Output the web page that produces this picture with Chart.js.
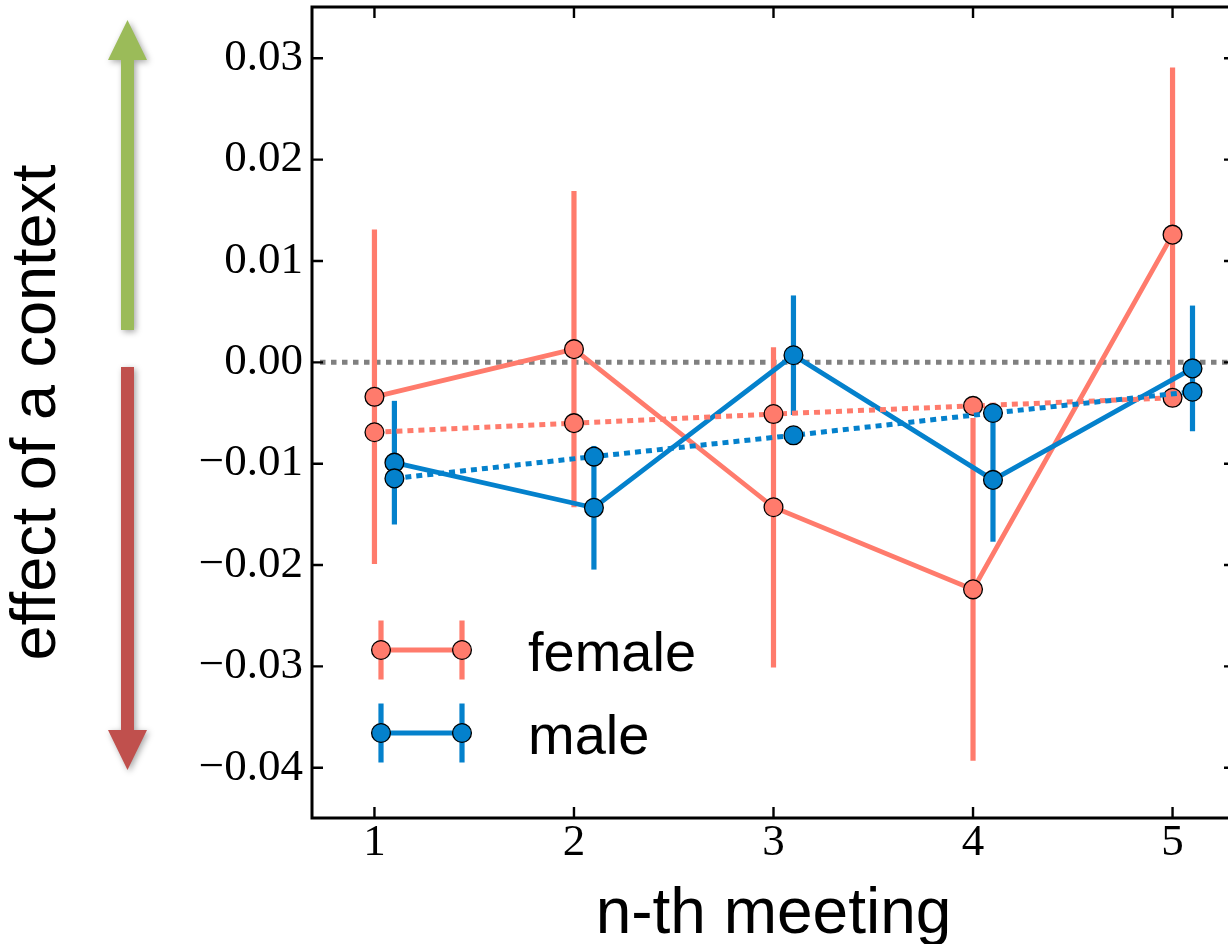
<!DOCTYPE html>
<html><head><meta charset="utf-8">
<script src="https://cdn.jsdelivr.net/npm/chart.js@4.4.1/dist/chart.umd.min.js"></script>
<style>
html,body{margin:0;padding:0;background:#fff;overflow:hidden;width:1228px;height:944px}
canvas{display:block}
</style></head>
<body>
<canvas id="c" width="1240" height="944"></canvas>
<script>
// ---- data ----
const meetings = [1, 2, 3, 4, 5];
const maleOffset = 0.1;
const femaleMean = [-0.0034, 0.0013, -0.0143, -0.0224, 0.0126];
const femaleErr  = [0.0165, 0.0156, 0.0158, 0.0169, 0.0165];
const maleMean   = [-0.0099, -0.01435, 0.0007, -0.0116, -0.0006];
const maleErr    = [0.0061, 0.0061, 0.0059, 0.0061, 0.0062];
const femaleFit  = [-0.0069, -0.0060, -0.0051, -0.0043, -0.0035];
const maleFit    = [-0.01145, -0.0093, -0.0072, -0.0050, -0.0029];
const yTickValues = [-0.04, -0.03, -0.02, -0.01, 0.00, 0.01, 0.02, 0.03];
const xTickValues = [1, 2, 3, 4, 5];
const seriesLabels = ['female', 'male'];
const xTitle = 'n-th meeting';
const yTitle = 'effect of a context';

const FEMALE = '#FF7B6C';
const MALE = '#0481CC';

const pts = (xs, ys, off) => xs.map((x, i) => ({x: x + off, y: ys[i]}));

function drawErrBars(ctx, xs, means, errs, off, color, sx, sy) {
  ctx.strokeStyle = color; ctx.lineWidth = 5.2; ctx.lineCap = 'butt';
  xs.forEach((x, i) => {
    const px = sx.getPixelForValue(x + off);
    ctx.beginPath();
    ctx.moveTo(px, sy.getPixelForValue(means[i] + errs[i]));
    ctx.lineTo(px, sy.getPixelForValue(means[i] - errs[i]));
    ctx.stroke();
  });
}

function arrow(ctx, cx, tipY, baseY, endY, color) {
  const sw = 6.5, hw = 19.5;
  ctx.save();
  ctx.shadowColor = 'rgba(0,0,0,0.35)';
  ctx.shadowBlur = 6; ctx.shadowOffsetX = 2; ctx.shadowOffsetY = 2;
  ctx.fillStyle = color;
  ctx.beginPath();
  ctx.moveTo(cx, tipY);
  ctx.lineTo(cx + hw, baseY);
  ctx.lineTo(cx + sw, baseY);
  ctx.lineTo(cx + sw, endY);
  ctx.lineTo(cx - sw, endY);
  ctx.lineTo(cx - sw, baseY);
  ctx.lineTo(cx - hw, baseY);
  ctx.closePath();
  ctx.fill();
  ctx.restore();
}

const decor = {
  id: 'decor',
  beforeDatasetsDraw(chart) {
    const {ctx, chartArea: a, scales: {x, y}} = chart;
    ctx.save();
    const y0 = y.getPixelForValue(0);
    ctx.beginPath();
    ctx.setLineDash([5.5, 5.5]);
    ctx.lineWidth = 5; ctx.strokeStyle = '#808080';
    ctx.moveTo(a.left + 8, y0); ctx.lineTo(a.right, y0); ctx.stroke();
    ctx.setLineDash([]);
    drawErrBars(ctx, meetings, femaleMean, femaleErr, 0, FEMALE, x, y);
    drawErrBars(ctx, meetings, maleMean, maleErr, maleOffset, MALE, x, y);
    ctx.restore();
  },
  afterDraw(chart) {
    const {ctx, chartArea: a, scales: {x, y}} = chart;
    ctx.save();
    // frame
    ctx.strokeStyle = '#000'; ctx.lineWidth = 3;
    ctx.strokeRect(a.left, a.top, a.right - a.left, a.bottom - a.top);
    // inward ticks
    ctx.lineWidth = 2.4;
    const tl = 11;
    ctx.beginPath();
    y.ticks.forEach(t => {
      const py = y.getPixelForValue(t.value);
      ctx.moveTo(a.left, py); ctx.lineTo(a.left + tl, py);
      ctx.moveTo(a.right, py); ctx.lineTo(a.right - tl, py);
    });
    x.ticks.forEach(t => {
      const px = x.getPixelForValue(t.value);
      ctx.moveTo(px, a.bottom); ctx.lineTo(px, a.bottom - tl);
      ctx.moveTo(px, a.top); ctx.lineTo(px, a.top + tl);
    });
    ctx.stroke();
    // legend
    const entries = [
      {label: chart.data.datasets[0].label, color: FEMALE, y: 650},
      {label: chart.data.datasets[1].label, color: MALE, y: 733}
    ];
    const lx1 = 381, lx2 = 462;
    entries.forEach(e => {
      ctx.lineCap = 'butt';
      ctx.strokeStyle = e.color; ctx.lineWidth = 4.8;
      ctx.beginPath(); ctx.moveTo(lx1, e.y); ctx.lineTo(lx2, e.y); ctx.stroke();
      ctx.lineWidth = 5.2;
      [lx1, lx2].forEach(px => {
        ctx.beginPath(); ctx.moveTo(px, e.y - 29.5); ctx.lineTo(px, e.y + 29.5); ctx.stroke();
      });
      [lx1, lx2].forEach(px => {
        ctx.beginPath(); ctx.arc(px, e.y, 9.4, 0, Math.PI * 2);
        ctx.fillStyle = e.color; ctx.fill();
        ctx.lineWidth = 1.3; ctx.strokeStyle = '#000'; ctx.stroke();
      });
      ctx.fillStyle = '#000';
      ctx.font = '56px "Liberation Sans", Arial, sans-serif';
      ctx.textBaseline = 'alphabetic'; ctx.textAlign = 'left';
      ctx.fillText(e.label, 528, e.y + 21);
    });
    // arrows
    arrow(ctx, 127.5, 20, 60, 330, '#9BBB59');
    arrow(ctx, 127.5, 770, 730, 367, '#C0504D');
    ctx.restore();
  }
};

const lineDs = (label, data, color, dashed, order) => ({
  label, data, order,
  borderColor: color, backgroundColor: color,
  borderWidth: dashed ? 5 : 4.8,
  borderDash: dashed ? [6, 5] : [],
  borderCapStyle: 'butt',
  pointRadius: 9.4, pointHoverRadius: 9.4,
  pointBackgroundColor: color, pointBorderColor: '#000', pointBorderWidth: 1.3,
  tension: 0, fill: false, clip: false
});

const noPad = s => { s.paddingTop = 0; s.paddingBottom = 0; s.paddingLeft = 0; s.paddingRight = 0; };

new Chart(document.getElementById('c'), {
  type: 'line',
  data: {
    datasets: [
      lineDs(seriesLabels[0], pts(meetings, femaleMean, 0), FEMALE, false, 4),
      lineDs(seriesLabels[1], pts(meetings, maleMean, maleOffset), MALE, false, 3),
      lineDs(seriesLabels[0] + ' fit', pts(meetings, femaleFit, 0), FEMALE, true, 2),
      lineDs(seriesLabels[1] + ' fit', pts(meetings, maleFit, maleOffset), MALE, true, 1)
    ]
  },
  options: {
    responsive: false,
    animation: false,
    devicePixelRatio: 1,
    layout: {autoPadding: false, padding: {top: 7, right: 5, left: 0, bottom: 0}},
    plugins: {legend: {display: false}, tooltip: {enabled: false}},
    scales: {
      x: {
        type: 'linear', min: 0.687, max: 5.313,
        afterBuildTicks: s => { s.ticks = xTickValues.map(v => ({value: v})); },
        afterFit: s => { s.height = 126; noPad(s); },
        grid: {display: false, drawTicks: false},
        border: {display: false},
        ticks: {
          color: '#000', padding: 3,
          font: {family: '"Liberation Serif", "Times New Roman", serif', size: 45, lineHeight: 1},
          callback: v => String(v)
        },
        title: {
          display: true, text: xTitle, color: '#000',
          font: {family: '"Liberation Sans", Arial, sans-serif', size: 64, lineHeight: 0.9},
          padding: 0
        }
      },
      y: {
        type: 'linear', min: -0.04496, max: 0.03506,
        afterBuildTicks: s => { s.ticks = yTickValues.map(v => ({value: v})); },
        afterFit: s => { s.width = 312; noPad(s); },
        grid: {display: false, drawTicks: false},
        border: {display: false},
        ticks: {
          color: '#000', padding: 9,
          font: {family: '"Liberation Serif", "Times New Roman", serif', size: 45, lineHeight: 1},
          callback: v => (v < -1e-9 ? '\u2212' : '') + Math.abs(v).toFixed(2)
        },
        title: {
          display: true, text: yTitle, color: '#000',
          font: {family: '"Liberation Sans", Arial, sans-serif', size: 63, lineHeight: 1.2},
          padding: 0
        }
      }
    }
  },
  plugins: [decor]
});
</script>
</body></html>
